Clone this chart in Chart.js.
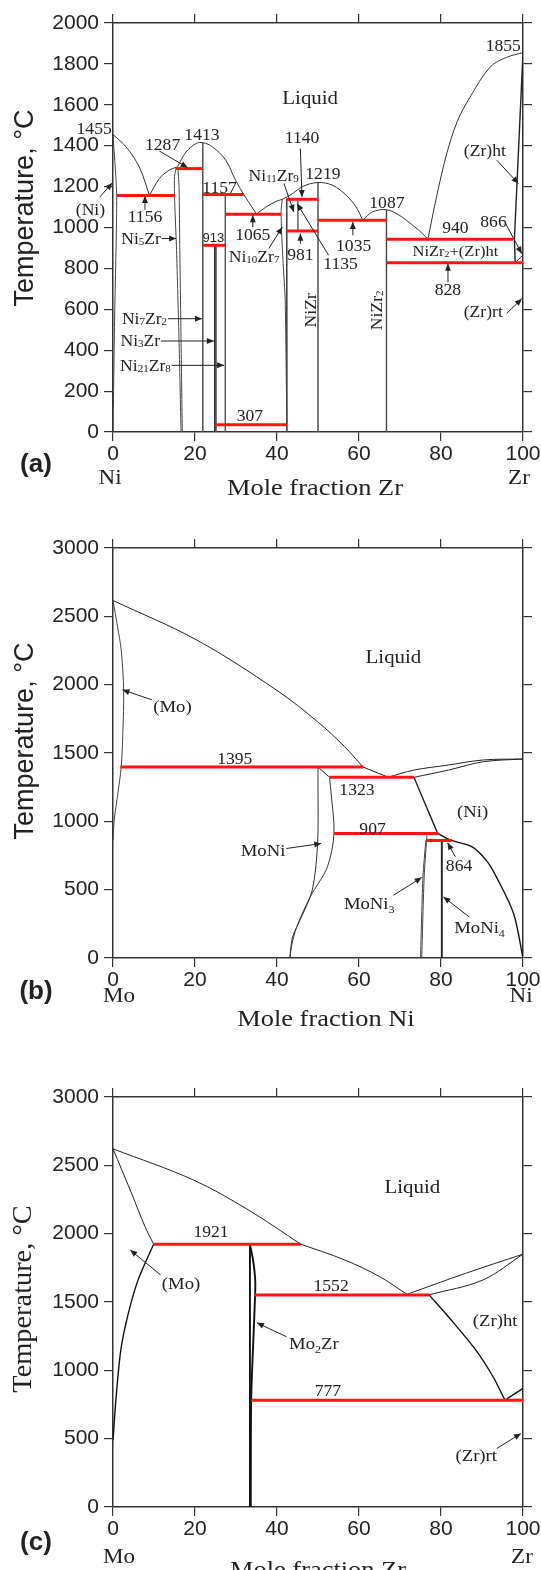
<!DOCTYPE html>
<html>
<head>
<meta charset="utf-8">
<script src="https://cdn.jsdelivr.net/npm/chart.js@4.4.0/dist/chart.umd.min.js"></script>
<style>
html, body { margin: 0; padding: 0; background: #fff; }
#wrap { position: relative; width: 541px; height: 1570px; overflow: hidden; }
canvas { position: absolute; left: 0; }
</style>
</head>
<body>
<div id="wrap">
  <canvas id="chartA" width="541" height="500" style="top:0px"></canvas>
  <canvas id="chartB" width="541" height="540" style="top:500px"></canvas>
  <canvas id="chartC" width="541" height="530" style="top:1040px"></canvas>
</div>
<script>
// ---- ticks ----
const xTicks = [0, 20, 40, 60, 80, 100];
const tTicksA = [0, 200, 400, 600, 800, 1000, 1200, 1400, 1600, 1800, 2000];
const tTicksBC = [0, 500, 1000, 1500, 2000, 2500, 3000];

// ---- (a) Ni-Zr : [mole % Zr, T] ----
const nizrLiq1 = [[0,1455],[3.2,1394],[6.4,1296],[8.9,1157]];
const nizrLiq2 = [[8.9,1157],[11.3,1239],[13.7,1280],[15.6,1296]];
const nizrLiq3 = [[15.8,1300],[17.8,1369],[20.2,1410],[21.9,1415],[24.3,1394],[27.5,1329],[29.9,1231],[31.9,1161],[35.0,1066]];
const nizrLiq4 = [[35.0,1066],[37.3,1100],[39.8,1128],[41.3,1138],[43.8,1166],[46.3,1201],[50.0,1220],[53.6,1206],[56.9,1157],[59.3,1100],[60.9,1036]];
const nizrLiq5 = [[60.9,1036],[63.3,1076],[66.7,1087],[69.8,1060],[73.1,1011],[75.5,970],[76.8,942]];
const nizrLiq6 = [[76.8,942],[78.9,1149],[81.4,1361],[84.0,1520],[87.1,1638],[92.0,1785],[96.0,1832],[100,1855]];
const nizrNiSs = [[0,1455],[0.9,1157],[0.4,562],[0,0]];
const nizrNi5ZrL = [[15.4,1293],[15.0,1250],[15.0,1157],[15.5,888],[16.1,450],[16.6,0]];
const nizrNi5ZrR = [[15.8,1300],[16.1,1200],[16.3,888],[16.6,450],[16.9,0]];
const nizrNi7Zr2 = [[21.9,1415],[21.9,0]];
const nizrNi3ZrL = [[24.8,913],[24.8,0]];
const nizrNi3ZrR = [[25.1,913],[25.1,0]];
const nizrNi21Zr8 = [[27.4,1161],[27.4,0]];
const nizrNi10Zr7L = [[41.3,1138],[41.0,1084],[41.1,986],[41.5,823],[42.0,644],[42.4,36]];
const nizrNi10Zr7R = [[42.3,1140],[42.4,0]];
const nizrNi11Zr9 = [[45.1,1138],[45.1,983]];
const nizrNiZr = [[50,1220],[50,0]];
const nizrNiZr2 = [[66.7,1087],[66.7,0]];
const nizrZrSol = [[100,1855],[97.9,940],[98.1,828]];
const nizrZrHt = [[98.1,828],[100,866]];
// invariants: [T, x from, x to]
const nizrInvariants = [[1157,0.9,15.0],[1288,15.4,21.9],[1161,21.9,31.9],[913,21.9,27.4],[1065,27.4,41.0],
  [1138,42.3,50],[983,42.3,50],[36,24.8,42.4],[1035,50,66.7],[942,66.7,97.6],[828,66.7,100]];

// ---- (b) Mo-Ni : [mole % Ni, T] ----
const moniLiq1 = [[0,2616],[20.4,2327],[39.8,1962],[49.9,1729],[56.5,1546],[61.0,1397]];
const moniLiq2 = [[61.0,1397],[67.1,1323]];
const moniLiq3 = [[67.1,1323],[73.4,1375],[81.8,1412],[90.3,1449],[100,1456]];
const moniNiSol = [[73.4,1322],[81.8,1375],[90.3,1436],[100,1456]];
const moniMoSs = [[0,2616],[1.1,2426],[2.0,2254],[2.6,1962],[2.4,1644],[2.0,1397],[1.2,1207],[0.3,1010],[0,862]];
const moniMoNiL = [[50.0,1397],[50.0,1300],[49.9,838],[48.6,496],[45.6,276],[43.8,154],[43.1,0]];
const moniMoNiTop = [[50.0,1397],[52.8,1323]];
const moniMoNiR = [[52.8,1323],[53.2,1205],[53.9,911],[52.3,667],[48.1,447],[44.8,227],[43.5,81],[43.2,0]];
const moniNiBd = [[73.4,1322],[75.4,1180],[79.2,911]];
const moniNiSolv = [[79.2,911],[82.6,860],[87.6,813],[91.0,716],[93.5,594],[97.7,325],[100,0]];
const moniMoNi3L = [[75.0,0],[75.6,600],[76.3,860]];
const moniMoNi3R = [[75.3,0],[75.9,600],[76.6,911]];
const moniMoNi4 = [[80.2,0],[80.2,860]];
const moniInvariants = [[1397,1.8,61.0],[1322,52.8,73.4],[911,53.9,79.2],[860,76.5,82.6]];

// ---- (c) Mo-Zr : [mole % Zr, T] ----
const mozrLiq1 = [[0,2621],[19.6,2393],[33.0,2174],[45.8,1923]];
const mozrLiq2 = [[45.8,1923],[56.5,1808],[65.0,1686],[71.7,1556]];
const mozrLiq3 = [[71.7,1556],[86.0,1710],[100,1850]];
const mozrZrSol = [[77.1,1552],[90.2,1661],[100,1850]];
const mozrMoSol = [[0,2621],[4.5,2297],[7.8,2052],[9.9,1923]];
const mozrMoSolv = [[9.9,1923],[6.1,1660],[3.6,1400],[1.9,1148],[0.7,782],[0,489]];
const mozrMo2ZrL = [[33.4,1921],[33.4,0]];
const mozrMo2ZrR = [[33.4,1921],[34.2,1800],[34.7,1650],[34.6,1500],[34.2,1200],[33.7,782],[33.6,0]];
const mozrZrHt = [[77.1,1552],[81.8,1392],[88.5,1148],[92.7,953],[95.6,782]];
const mozrZrRt = [[95.6,782],[100,868]];
const mozrInvariants = [[1923,9.9,45.8],[1551,34.5,77.1],[782,33.7,100]];

const SERIF = '"Liberation Serif", "Times New Roman", serif';
const SANS = '"Liberation Sans", Arial, sans-serif';

// labels, in data units
const notesA = [
  {t:'Liquid', x:48.1, y:1636, size:19},
  {t:'1455', x:-4.6, y:1484}, {t:'1287', x:12.1, y:1407}, {t:'1413', x:21.7, y:1456},
  {t:'1156', x:7.8, y:1055}, {t:'(Ni)', x:-5.5, y:1088}, {t:'1157', x:26.0, y:1195},
  {t:'913', x:24.5, y:951, family:SANS, size:13, sx:1},
  {t:'Ni{5}Zr', x:11.7, y:946, align:'right', size:16},
  {t:'1140', x:46.1, y:1440}, {t:'1219', x:51.2, y:1264},
  {t:'Ni{11}Zr{9}', x:39.2, y:1255, size:16},
  {t:'1135', x:55.5, y:823}, {t:'1065', x:34.1, y:967},
  {t:'Ni{10}Zr{7}', x:34.4, y:856, size:16},
  {t:'981', x:45.7, y:869}, {t:'1035', x:58.7, y:913}, {t:'1087', x:66.8, y:1120},
  {t:'940', x:83.5, y:998}, {t:'866', x:92.8, y:1030}, {t:'1855', x:95.2, y:1891},
  {t:'(Zr)ht', x:90.7, y:1374}, {t:'NiZr{2}+(Zr)ht', x:83.5, y:885, size:15},
  {t:'828', x:81.7, y:696}, {t:'(Zr)rt', x:90.3, y:587},
  {t:'NiZr', x:48.2, y:595, rot:true, size:16}, {t:'NiZr{2}', x:64.2, y:595, rot:true, size:16},
  {t:'Ni{7}Zr{2}', x:13.2, y:554, align:'right', size:16},
  {t:'Ni{3}Zr', x:11.5, y:445, align:'right', size:16},
  {t:'Ni{21}Zr{8}', x:14.1, y:326, align:'right', size:16},
  {t:'307', x:33.4, y:82}
];
const arrowsA = [
  [11.3,1374,18.2,1293], [7.8,1087,7.8,1154], [-3.2,1149,-0.2,1218], [11.9,946,15.4,946],
  [45.7,1386,46.1,1149], [41.7,1215,44.1,1076], [52.6,864,44.9,1117], [34.1,1002,34.1,1060],
  [38.0,897,41.3,1002], [45.7,921,45.7,970], [58.5,962,58.5,1027], [95.7,1022,99.7,872],
  [93.6,1329,98.9,1215], [81.7,733,81.7,823], [96.0,579,99.7,652],
  [13.4,554,21.7,554], [11.7,445,24.6,445], [14.3,326,27.1,326]
];
const notesB = [
  {t:'Liquid', x:68.4, y:2206, size:19}, {t:'(Mo)', x:14.5, y:1844, size:17},
  {t:'1395', x:29.7, y:1461}, {t:'1323', x:59.5, y:1234}, {t:'(Ni)', x:87.7, y:1077, size:17},
  {t:'907', x:63.3, y:948}, {t:'MoNi', x:36.6, y:789, size:17}, {t:'864', x:84.4, y:679},
  {t:'MoNi{3}', x:62.5, y:399, size:17, drop:4}, {t:'MoNi{4}', x:89.4, y:227, size:17, drop:4}
];
const arrowsB = [[9.5,1889,2.3,1962], [42.3,801,50.8,838], [83.5,740,81.6,843], [68.4,459,75.3,589], [86.9,300,80.6,447]];
const notesC = [
  {t:'Liquid', x:73.0, y:2345, size:19}, {t:'1921', x:23.9, y:2015}, {t:'(Mo)', x:16.6, y:1641, size:17},
  {t:'1552', x:53.2, y:1617}, {t:'(Zr)ht', x:93.2, y:1368, size:17},
  {t:'Mo{2}Zr', x:49.0, y:1197, size:17, drop:4}, {t:'777', x:52.4, y:855}, {t:'(Zr)rt', x:88.6, y:379, size:17}
];
const arrowsC = [[11.6,1698,4.2,1881], [42.3,1246,35.1,1348], [93.6,428,99.5,538]];

function pts(arr) {
  return arr.map(p => ({x: p[0], y: p[1]}));
}

function curve(arr, width, color, tension) {
  return {data: pts(arr), showLine: true, borderColor: color || '#333', borderWidth: width || 1,
    pointRadius: 0, tension: tension === undefined ? 0.35 : tension, fill: false};
}

function redLine(inv) {
  return {data: [{x: inv[1], y: inv[0]}, {x: inv[2], y: inv[0]}], showLine: true,
    borderColor: '#ff1414', borderWidth: 3, pointRadius: 0, tension: 0};
}

function drawRich(ctx, text, x, y, o) {
  const size = o.size || 16, fam = o.family || SERIF, sx = o.sx || 1.1;
  const subSize = Math.round(size * 0.62);
  const parts = [];
  text.split(/(\{[^}]*\})/).forEach(s => {
    if (!s) return;
    if (s[0] === '{') parts.push({s: s.slice(1, -1), sub: true});
    else parts.push({s: s, sub: false});
  });
  const w8 = o.weight ? o.weight + ' ' : '';
  let w = 0;
  parts.forEach(p => {
    ctx.font = w8 + (p.sub ? subSize : size) + 'px ' + fam;
    p.w = ctx.measureText(p.s).width;
    w += p.w;
  });
  ctx.save();
  ctx.translate(x, y);
  if (o.rot) ctx.rotate(-Math.PI / 2);
  ctx.scale(sx, 1);
  let cx = o.align === 'right' ? -w : (o.align === 'left' ? 0 : -w / 2);
  const base = size * 0.34;
  ctx.textBaseline = 'alphabetic';
  ctx.textAlign = 'left';
  ctx.fillStyle = o.color || '#222';
  parts.forEach(p => {
    ctx.font = w8 + (p.sub ? subSize : size) + 'px ' + fam;
    ctx.fillText(p.s, cx, base + (p.sub ? (o.drop === undefined ? 1 : o.drop) : 0));
    cx += p.w;
  });
  ctx.restore();
}

function drawArrow(ctx, x1, y1, x2, y2) {
  ctx.strokeStyle = '#222';
  ctx.lineWidth = 1;
  ctx.beginPath(); ctx.moveTo(x1, y1); ctx.lineTo(x2, y2); ctx.stroke();
  const a = Math.atan2(y2 - y1, x2 - x1), L = 7, H = 3;
  ctx.beginPath();
  ctx.moveTo(x2, y2);
  ctx.lineTo(x2 - L * Math.cos(a) + H * Math.sin(a), y2 - L * Math.sin(a) - H * Math.cos(a));
  ctx.lineTo(x2 - L * Math.cos(a) - H * Math.sin(a), y2 - L * Math.sin(a) + H * Math.cos(a));
  ctx.closePath();
  ctx.fillStyle = '#222';
  ctx.fill();
}

function notesPlugin(cfg) {
  return {
    id: 'notes',
    afterDraw(chart) {
      const ctx = chart.ctx, sx = chart.scales.x, sy = chart.scales.y;
      const px = v => sx.getPixelForValue(v), py = v => sy.getPixelForValue(v);
      ctx.save();
      cfg.arrows.forEach(a => drawArrow(ctx, px(a[0]), py(a[1]), px(a[2]), py(a[3])));
      cfg.notes.forEach(n => drawRich(ctx, n.t, px(n.x), py(n.y), n));
      // axis titles and end labels (canvas pixels)
      cfg.titles.forEach(n => drawRich(ctx, n.t, n.x, n.y, n));
      ctx.restore();
    }
  };
}

function makeScales(tTicks, tMax, topH, bottomH) {
  const grid = {display: true, drawOnChartArea: false, drawTicks: true, tickLength: 9, color: '#333', lineWidth: 1.2};
  const border = {display: true, color: '#333', width: 1.5};
  const fix = (w, h) => s => {
    if (w !== null) s.width = w;
    if (h !== null) s.height = h;
    s.paddingLeft = 0; s.paddingRight = 0; s.paddingTop = 0; s.paddingBottom = 0;
  };
  const tickFont = {family: SANS, size: 21};
  const setX = s => { s.ticks = xTicks.map(v => ({value: v})); };
  const setT = s => { s.ticks = tTicks.map(v => ({value: v})); };
  return {
    x: {type: 'linear', position: 'bottom', min: 0, max: 100, afterBuildTicks: setX, afterFit: fix(null, bottomH),
      ticks: {font: tickFont, color: '#222', padding: 1, maxRotation: 0, autoSkip: false, callback: v => String(v)}, grid: grid, border: border},
    x2: {type: 'linear', position: 'top', min: 0, max: 100, afterBuildTicks: setX, afterFit: fix(null, topH),
      ticks: {display: false}, grid: grid, border: border},
    y: {type: 'linear', position: 'left', min: 0, max: tMax, afterBuildTicks: setT, afterFit: fix(113, null),
      ticks: {font: tickFont, color: '#222', padding: 5, autoSkip: false, callback: v => String(v)}, grid: grid, border: border},
    y2: {type: 'linear', position: 'right', min: 0, max: tMax, afterBuildTicks: setT, afterFit: fix(18, null),
      ticks: {display: false}, grid: grid, border: border}
  };
}

function makeChart(id, cfg) {
  const datasets = cfg.red.map(redLine).concat(cfg.lines.map(l => curve(l[0], l[1], l[2], l[3])));
  return new Chart(document.getElementById(id), {
    type: 'scatter',
    data: {datasets: datasets},
    options: {
      responsive: false,
      maintainAspectRatio: false,
      devicePixelRatio: 1,
      animation: false,
      layout: {padding: 0},
      scales: makeScales(cfg.tTicks, cfg.tMax, cfg.topH, cfg.bottomH),
      plugins: {legend: {display: false}, tooltip: {enabled: false}}
    },
    plugins: [notesPlugin(cfg)]
  });
}

const thin = 1, mid = 1.4, thick = 1.9;

makeChart('chartA', {
  tTicks: tTicksA, tMax: 2000, topH: 23, bottomH: 68,
  red: nizrInvariants,
  lines: [
    [nizrLiq1, thin], [nizrLiq2, thin], [nizrLiq3, thin], [nizrLiq4, thin], [nizrLiq5, thin], [nizrLiq6, thin],
    [nizrNiSs, thin, '#444', 0.2], [nizrNi5ZrL, thin, '#444', 0.2], [nizrNi5ZrR, thin, '#444', 0.2],
    [nizrNi7Zr2, mid, '#444', 0], [nizrNi3ZrL, mid, '#333', 0], [nizrNi3ZrR, thin, '#555', 0],
    [nizrNi21Zr8, thin, '#555', 0], [nizrNi10Zr7L, thin, '#444', 0.2], [nizrNi10Zr7R, thin, '#444', 0],
    [nizrNi11Zr9, thin, '#777', 0], [nizrNiZr, mid, '#444', 0], [nizrNiZr2, mid, '#444', 0],
    [nizrZrSol, mid, '#222', 0], [nizrZrHt, thin, '#222', 0]
  ],
  notes: notesA, arrows: arrowsA,
  titles: [
    {t:'Temperature, °C', x:24, y:208, rot:true, family:SANS, size:27, sx:1},
    {t:'(a)', x:36, y:463, family:SANS, size:26, sx:1, weight:'bold'},
    {t:'Ni', x:110, y:477, size:21},
    {t:'Mole fraction Zr', x:315, y:487, size:24},
    {t:'Zr', x:519, y:477, size:21}
  ]
});

makeChart('chartB', {
  tTicks: tTicksBC, tMax: 3000, topH: 48, bottomH: 82,
  red: moniInvariants,
  lines: [
    [moniLiq1, thin, '#222'], [moniLiq2, thin, '#222', 0], [moniLiq3, thin, '#222'], [moniNiSol, thin, '#222'],
    [moniMoSs, thin, '#444', 0.3], [moniMoNiL, thin, '#333', 0.3], [moniMoNiTop, thin, '#333', 0],
    [moniMoNiR, thin, '#333', 0.3], [moniNiBd, mid, '#222', 0.2], [moniNiSolv, mid, '#111', 0.3],
    [moniMoNi3L, thin, '#444', 0.2], [moniMoNi3R, thin, '#444', 0.2], [moniMoNi4, thick, '#222', 0]
  ],
  notes: notesB, arrows: arrowsB,
  titles: [
    {t:'Temperature, °C', x:24, y:241, rot:true, family:SANS, size:27, sx:1},
    {t:'(b)', x:36, y:490, family:SANS, size:26, sx:1, weight:'bold'},
    {t:'Mo', x:119, y:495, size:21},
    {t:'Mole fraction Ni', x:326, y:518, size:24},
    {t:'Ni', x:521, y:495, size:21}
  ]
});

makeChart('chartC', {
  tTicks: tTicksBC, tMax: 3000, topH: 57, bottomH: 63,
  red: mozrInvariants,
  lines: [
    [mozrLiq1, thin, '#222'], [mozrLiq2, thin, '#222'], [mozrLiq3, thin, '#222'], [mozrZrSol, thin, '#222'],
    [mozrMoSol, thin, '#222', 0.3], [mozrMoSolv, mid, '#111', 0.3], [mozrMo2ZrL, thick, '#111', 0],
    [mozrMo2ZrR, thick, '#111', 0.3], [mozrZrHt, mid, '#111', 0.3], [mozrZrRt, mid, '#111', 0]
  ],
  notes: notesC, arrows: arrowsC,
  titles: [
    {t:'Temperature, °C', x:22, y:259, rot:true, size:27, sx:1.05},
    {t:'(c)', x:36, y:501, family:SANS, size:26, sx:1, weight:'bold'},
    {t:'Mo', x:119, y:516, size:21},
    {t:'Mole fraction Zr', x:318, y:529, size:24},
    {t:'Zr', x:522, y:516, size:21}
  ]
});
</script>
</body>
</html>
